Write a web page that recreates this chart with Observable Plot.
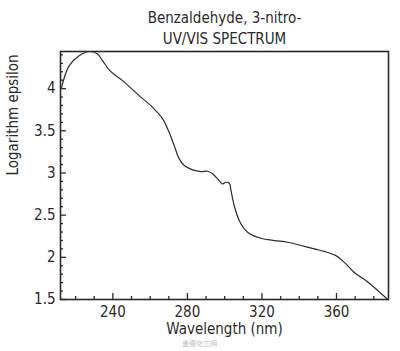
<!DOCTYPE html>
<html>
<head>
<meta charset="utf-8">
<script src="https://cdn.jsdelivr.net/npm/d3@7"></script>
<script src="https://cdn.jsdelivr.net/npm/@observablehq/plot@0.6"></script>
<style>
  html, body { margin: 0; padding: 0; background: #fff; }
  svg { display: block; }
</style>
</head>
<body>
<div id="chart"></div>
<script>
const titleLines = ["Benzaldehyde, 3-nitro-", "UV/VIS SPECTRUM"];
const xLabel = "Wavelength (nm)";
const yLabel = "Logarithm epsilon";
const watermark = "盖德化工网";

const wavelength = [212.5, 216.5, 221.9, 227.3, 231.8, 234.5, 238.5, 245.2, 254.1, 261.3, 266.7,
  270.2, 272.9, 275.6, 278.3, 282.8, 287.2, 290.8, 293.5, 296.2, 298.9,
  300.7, 302.5, 303.4, 305.1, 307.8, 310.5, 314.1, 319.5, 326.6, 333.8,
  341.0, 348.1, 353.5, 359.7, 364.2, 369.6, 375.8, 382.1, 387.5];
const logEpsilon = [4.015, 4.27, 4.39, 4.44, 4.41, 4.33, 4.21, 4.095, 3.917, 3.778, 3.641,
  3.482, 3.325, 3.167, 3.088, 3.037, 3.017, 3.02, 2.99, 2.93, 2.871,
  2.89, 2.878, 2.79, 2.614, 2.436, 2.338, 2.27, 2.226, 2.199, 2.179,
  2.14, 2.10, 2.07, 2.02, 1.94, 1.82, 1.725, 1.607, 1.5];

const xMajor = [240, 280, 320, 360];
const xMinor = [220, 230, 250, 260, 270, 290, 300, 310, 330, 340, 350, 370, 380];
const yMajor = [1.5, 2, 2.5, 3, 3.5, 4];
const yMinor = [1.6, 1.7, 1.8, 1.9, 2.1, 2.2, 2.3, 2.4, 2.6, 2.7, 2.8, 2.9,
  3.1, 3.2, 3.3, 3.4, 3.6, 3.7, 3.8, 3.9, 4.1, 4.2, 4.3, 4.4];

const data = wavelength.map((w, i) => ({w, v: logEpsilon[i]}));
const FONT = "'Liberation Sans Narrow', 'DejaVu Sans Condensed', sans-serif";
const INK = "#2a2a2a";

const chart = Plot.plot({
  width: 400,
  height: 351,
  marginTop: 51,
  marginBottom: 52,
  marginLeft: 60,
  marginRight: 12,
  style: {fontFamily: FONT, fontSize: "15px", color: INK, background: "#fff"},
  x: {domain: [211.9, 387.9]},
  y: {domain: [1.5, 4.44]},
  marks: [
    Plot.line(data, {x: "w", y: "v", stroke: INK, strokeWidth: 1.2, curve: "catmull-rom"}),
    Plot.axisX(xMajor, {tickSize: -6, strokeWidth: 1.3, stroke: INK, tickFormat: () => "", label: null}),
    Plot.axisX(xMinor, {tickSize: -3, strokeWidth: 1.3, stroke: INK, tickFormat: () => "", label: null}),
    Plot.axisX(xMajor, {tickSize: 0, tickPadding: 7, fill: INK, fontSize: 15, label: null}),
    Plot.axisY(yMajor, {tickSize: -6, strokeWidth: 1.3, stroke: INK, tickFormat: () => "", label: null}),
    Plot.axisY(yMinor, {tickSize: -3, strokeWidth: 1.3, stroke: INK, tickFormat: () => "", label: null}),
    Plot.axisY(yMajor, {tickSize: 0, tickPadding: 5, fill: INK, fontSize: 15, label: null, tickFormat: d => String(d)}),
    Plot.frame({stroke: INK, strokeWidth: 1.6}),
    Plot.text([titleLines[0]], {frameAnchor: "top", lineAnchor: "middle", dy: -33, fontSize: 15, fill: INK}),
    Plot.text([titleLines[1]], {frameAnchor: "top", lineAnchor: "middle", dy: -12, fontSize: 15, fill: INK}),
    Plot.text([xLabel], {frameAnchor: "bottom", lineAnchor: "middle", dy: 30, fontSize: 15, fill: INK}),
    Plot.text([yLabel], {frameAnchor: "left", lineAnchor: "middle", dx: -47, rotate: -90, fontSize: 15, fill: INK}),
    Plot.text([watermark], {frameAnchor: "bottom", lineAnchor: "middle", dy: 44.5, dx: -25, fontSize: 7, fill: "#bbb", fontFamily: "'Noto Sans CJK SC', sans-serif"})
  ]
});
document.getElementById("chart").appendChild(chart);
</script>
</body>
</html>
